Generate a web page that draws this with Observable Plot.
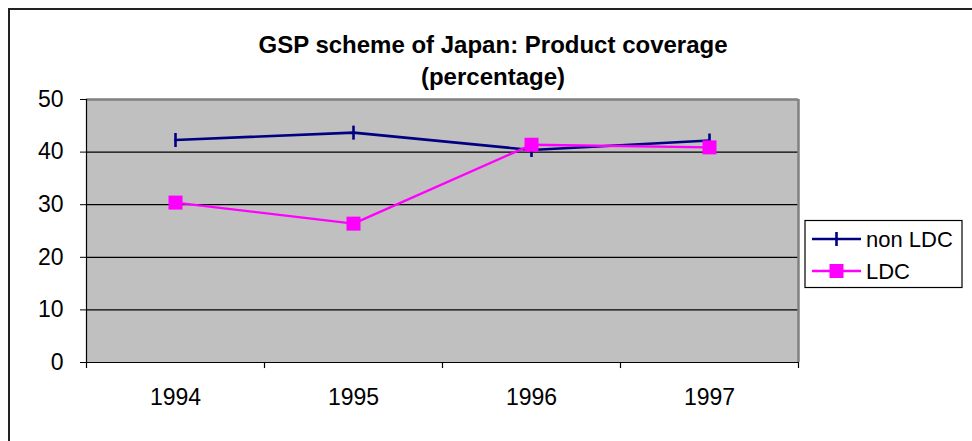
<!DOCTYPE html>
<html>
<head>
<meta charset="utf-8">
<script src="https://cdn.jsdelivr.net/npm/d3@7"></script>
<script src="https://cdn.jsdelivr.net/npm/@observablehq/plot@0.6"></script>
<style>
  html, body { margin: 0; padding: 0; background: #fff; overflow: hidden; }
  #wrap { position: relative; width: 972px; height: 441px; overflow: hidden; font-family: "Liberation Sans", Arial, sans-serif; }
  #border { position: absolute; left: 8px; top: 8px; width: 1100px; height: 600px; border-left: 2px solid #222; border-top: 2px solid #222; box-sizing: border-box; }
  #title { position: absolute; left: 0; top: 29px; width: 986px; text-align: center; font-weight: bold; font-size: 24px; line-height: 32px; color: #000; }
  #chart { position: absolute; left: 0; top: 0; }
  #legend { position: absolute; left: 0; top: 0; }
</style>
</head>
<body>
<div id="wrap">
  <div id="border"></div>
  <div id="chart"></div>
  <div id="title">GSP scheme of Japan: Product coverage<br>(percentage)</div>
  <svg id="legend" width="972" height="441"></svg>
</div>
<script>
const years = [1994, 1995, 1996, 1997];
const nonLDC = [42.3, 43.7, 40.4, 42.2];
const LDC = [30.4, 26.4, 41.4, 40.9];
const yTicks = [0, 10, 20, 30, 40, 50];
const seriesNames = ["non LDC", "LDC"];
const seriesColors = ["#000080", "#ff00ff"];

const rowsNon = years.map((y, i) => ({year: y, value: nonLDC[i]}));
const rowsLDC = years.map((y, i) => ({year: y, value: LDC[i]}));
const xMin = years[0] - 0.5, xMax = years[years.length - 1] + 0.5;
const boundaries = [xMin, ...years.map(y => y + 0.5)];

const vTick = {
  draw(ctx, size) {
    const h = Math.sqrt(size / Math.PI);
    ctx.moveTo(0, -h);
    ctx.lineTo(0, h);
  }
};

const chart = Plot.plot({
  width: 972,
  height: 441,
  marginLeft: 86,
  marginRight: 174,
  marginTop: 99,
  marginBottom: 79,
  style: {fontFamily: '"Liberation Sans", Arial, sans-serif', fontSize: "23px", color: "#000", background: "transparent", overflow: "visible"},
  x: {type: "linear", domain: [xMin, xMax], ticks: years, tickFormat: d => String(d), tickSize: 0, tickPadding: 26, label: null},
  y: {domain: [0, 50], ticks: yTicks, tickSize: 6, tickPadding: 17, label: null},
  marks: [
    Plot.frame({fill: "#c0c0c0", stroke: null}),
    Plot.ruleY(yTicks.filter(t => t > 0 && t < 50), {stroke: "#000", strokeWidth: 1.2}),
    Plot.ruleY([yTicks[yTicks.length - 1]], {stroke: "#808080", strokeWidth: 2.5}),
    Plot.ruleX([xMax], {stroke: "#808080", strokeWidth: 2.5}),
    Plot.ruleX([xMin], {stroke: "#000", strokeWidth: 1.2}),
    Plot.ruleY([0], {stroke: "#000", strokeWidth: 1.2}),
    Plot.ruleX(boundaries, {y1: 0, y2: -1.15, stroke: "#000", strokeWidth: 1.2}),
    Plot.line(rowsNon, {x: "year", y: "value", stroke: seriesColors[0], strokeWidth: 2.6}),
    Plot.dot(rowsNon, {x: "year", y: "value", symbol: vTick, r: 7, fill: "none", stroke: seriesColors[0], strokeWidth: 2.6}),
    Plot.line(rowsLDC, {x: "year", y: "value", stroke: seriesColors[1], strokeWidth: 2.4}),
    Plot.dot(rowsLDC, {x: "year", y: "value", symbol: "square", r: 7.9, fill: seriesColors[1], stroke: null})
  ]
});
document.getElementById("chart").appendChild(chart);

// Legend
const lg = d3.select("#legend");
lg.append("rect").attr("x", 805).attr("y", 220.5).attr("width", 157).attr("height", 67)
  .attr("fill", "#fff").attr("stroke", "#000").attr("stroke-width", 1.2);
seriesNames.forEach((name, i) => {
  const cy = 239 + i * 32;
  lg.append("line").attr("x1", 812).attr("x2", 861).attr("y1", cy).attr("y2", cy)
    .attr("stroke", seriesColors[i]).attr("stroke-width", 2.6);
  if (i === 0) {
    lg.append("line").attr("x1", 836.5).attr("x2", 836.5).attr("y1", cy - 7).attr("y2", cy + 7)
      .attr("stroke", seriesColors[i]).attr("stroke-width", 2.6);
  } else {
    lg.append("rect").attr("x", 829.5).attr("y", cy - 7).attr("width", 14).attr("height", 14)
      .attr("fill", seriesColors[i]);
  }
  lg.append("text").attr("x", 866).attr("y", cy).attr("dy", "0.35em")
    .attr("font-family", '"Liberation Sans", Arial, sans-serif').attr("font-size", 22)
    .attr("fill", "#000").text(name);
});
</script>
</body>
</html>
